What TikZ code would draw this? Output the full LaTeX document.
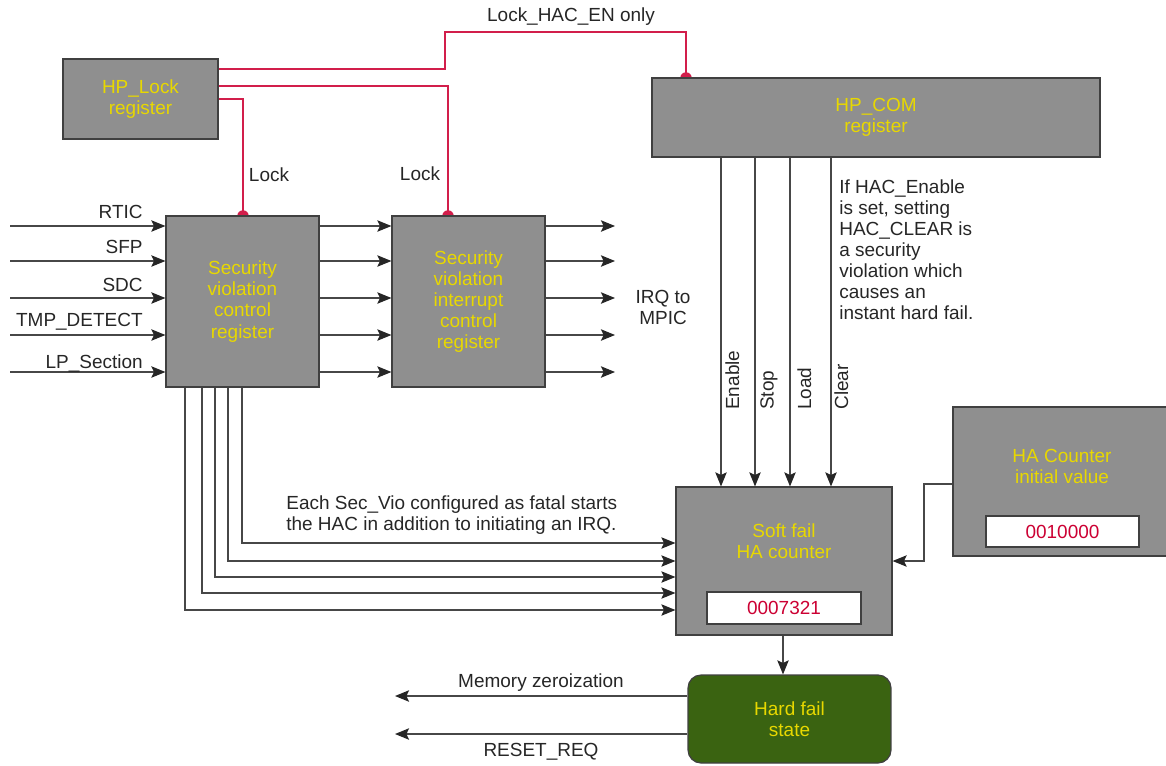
\documentclass[tikz,border=0pt]{standalone}
\usepackage{fontspec}
\setmainfont{Liberation Sans}
\usetikzlibrary{arrows.meta,calc}
\definecolor{boxgray}{RGB}{143,143,143}
\definecolor{yelltxt}{RGB}{232,216,0}
\definecolor{redtxt}{RGB}{204,0,51}
\definecolor{lockred}{RGB}{210,30,75}
\definecolor{hfgreen}{RGB}{58,99,17}
\begin{document}
\begin{tikzpicture}[x=0.02cm,y=-0.02cm,
  every node/.style={font=\fontsize{10.8}{12}\selectfont, text=black!85},
  box/.style={draw=black!75, line width=0.7pt, fill=boxgray, text=yelltxt, align=center, inner sep=0},
  valbox/.style={draw=black!75, line width=0.7pt, fill=white, text=redtxt, inner sep=0},
  arr/.style={draw=black!72, line width=0.7pt, -{Stealth[length=8pt,width=6.5pt,inset=1.5pt,color=black!85]}},
  lock/.style={draw=lockred, line width=0.8pt},
  lbl/.style={inner sep=0}
]
\useasboundingbox (0,0) rectangle (1166,765);

% lock dots (drawn first, boxes cover their lower halves)
\coordinate (d1) at (243,216);
\coordinate (d2) at (448,216);
\coordinate (d3) at (686,78);
\foreach \d in {d1,d2,d3} \fill[lockred] (\d) circle (0.115cm);

% boxes
\node[box, minimum width=3.1cm, minimum height=1.6cm] (hplock) at (140.5,99) {HP\_Lock\\register};
\node[box, minimum width=8.96cm, minimum height=1.58cm] (hpcom) at (876,117.5) {HP\_COM\\register};
\node[box, minimum width=3.06cm, minimum height=3.42cm] (svcr) at (242.5,301.5) {Security\\violation\\control\\register};
\node[box, minimum width=3.06cm, minimum height=3.42cm] (svicr) at (468.5,301.5) {Security\\violation\\interrupt\\control\\register};
\node[box, minimum width=4.32cm, minimum height=2.96cm] (soft) at (784,561) {};
\node[lbl, text=yelltxt, align=center] (softtxt) at (784,541) {Soft fail\\HA counter};
\node[valbox, minimum width=3.08cm, minimum height=0.64cm] (softval) at (784,608) {0007321};
\node[box, minimum width=4.3cm, minimum height=2.98cm] (init) at (1060.5,481.5) {};
\node[lbl, text=yelltxt, align=center] (inittxt) at (1062,466) {HA Counter\\initial value};
\node[valbox, minimum width=3.06cm, minimum height=0.62cm] (initval) at (1062.5,531.5) {0010000};
\node[box, rounded corners=0.26cm, fill=hfgreen, minimum width=4.06cm, minimum height=1.76cm] (hard) at (789.5,719) {Hard fail\\state};

% lock lines
\draw[lock] (hplock.east |- 0,69) -- (445,69) -- (445,32) -- (686,32) -- (hpcom.north -| d3);
\draw[lock] (hplock.east |- 0,86) -- (448,86) -- (svicr.north -| d2);
\draw[lock] (hplock.east |- 0,99) -- (243,99) -- (svcr.north -| d1);
\node[lbl] (lhac) at (571,17) {Lock\_HAC\_EN only};
\node[lbl] (lk1) at (269,175) {Lock};
\node[lbl] (lk2) at (420,174) {Lock};

% inputs
\foreach \y/\t/\b [count=\i] in {226/RTIC/218, 261/SFP/253, 298/SDC/291, 335/TMP\_DETECT/326, 372/LP\_Section/368}{
  \coordinate (in\i) at (10,\y);
  \coordinate (out\i) at (615,\y);
  \draw[arr] (in\i) -- (svcr.west |- in\i);
  \draw[arr] (svcr.east |- in\i) -- (svicr.west |- in\i);
  \draw[arr] (svicr.east |- in\i) -- (out\i);
  \node[lbl, anchor=base east] (lab\i) at (143,\b) {\t};
}
\node[lbl, align=center] (irq) at (663,307) {IRQ to\\MPIC};

% HP_COM to counter
\foreach \x/\t/\tx in {721/Enable/725, 755/Stop/760, 790/Load/797, 831/Clear/834}{
  \draw[arr] (hpcom.south -| \x,0) -- (soft.north -| \x,0);
  \node[lbl, rotate=90, anchor=north west] (c\t) at (\tx,410) {\t};
}
\node[lbl, align=left, anchor=north west] (note1) at (839,179) {If HAC\_Enable\\is set, setting\\HAC\_CLEAR is\\a security\\violation which\\causes an\\instant hard fail.};

% fatal bundle
\foreach \x/\y in {242/543, 228/561, 215/577, 202/593, 185/610}{
  \draw[arr] (svcr.south -| \x,0) -- (\x,\y) -- (soft.west |- 0,\y);
}
\node[lbl, align=left, anchor=north west] (note2) at (286,495) {Each Sec\_Vio configured as fatal starts\\the HAC in addition to initiating an IRQ.};

% initial value to counter
\draw[arr] (init.west |- 0,484) -- (924,484) -- (924,561) -- (soft.east |- 0,561);

% counter to hard fail
\draw[arr] (soft.south -| 783,0) -- (hard.north -| 783,0);

% outputs of hard fail
\coordinate (mz) at (395,696);
\coordinate (rr) at (395,734);
\draw[arr] (hard.west |- mz) -- (mz);
\draw[arr] (hard.west |- rr) -- (rr);
\node[lbl] (mzl) at (541,683) {Memory zeroization};
\node[lbl] (rrl) at (541,752) {RESET\_REQ};
\end{tikzpicture}
\end{document}
